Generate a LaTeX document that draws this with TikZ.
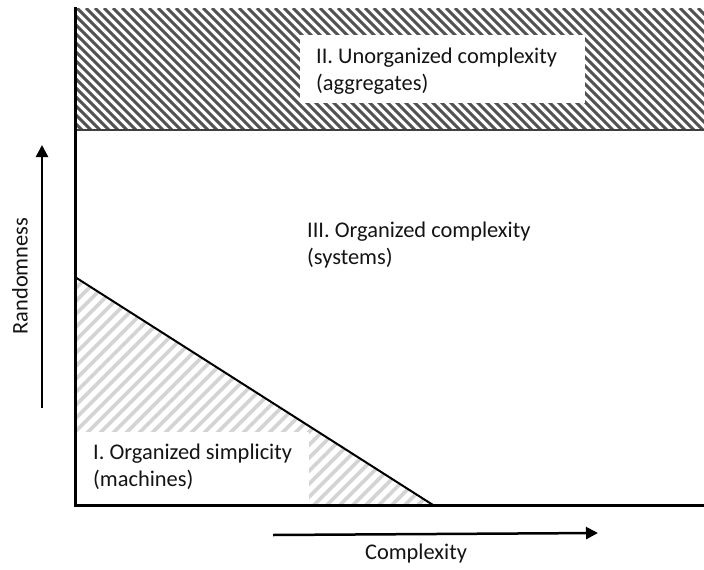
\documentclass[tikz,border=0pt]{standalone}
\usepackage{fontspec}
\setmainfont{Carlito}
\usetikzlibrary{arrows.meta}
\begin{document}
\begin{tikzpicture}[x=1pt,y=-1pt,
  lbl/.style={font=\fontsize{22.4}{27.5}\selectfont, text=black!92, align=left, inner sep=0pt},
  whitebox/.style={fill=white, draw=none, inner sep=0pt, anchor=north west},
  darkhatch/.style={line width=3pt, draw=black!68},
  lighthatch/.style={line width=3.6pt, draw=black!17},
  axisline/.style={line width=3pt, draw=black, line cap=rect},
  dirarrow/.style={line width=2.5pt, -{Triangle[length=12pt,width=12pt]}}]
\useasboundingbox (0,0) rectangle (704,570);
\fill[white] (0,0) rectangle (704,570);

% Region II: dark diagonal hatching in the upper band
\begin{scope}
  \clip (75,8) rectangle (704,130);
  \foreach \k in {-130,-121,...,712} \draw[darkhatch] (\k,8) -- ++(122,122);
\end{scope}
\node[whitebox, minimum width=285pt, minimum height=68pt] (aggbox) at (300,35) {};
\draw[line width=2pt, black!75] (75,130) -- (704,130);

% Region I: light hatching in the lower-left triangle
\begin{scope}
  \clip (75,277) -- (433,505) -- (75,505) -- cycle;
  \foreach \k in {-180,-167,...,445} \draw[lighthatch] (\k,505) -- ++(240,-240);
\end{scope}
\node[whitebox, minimum width=234pt, minimum height=73pt] (machbox) at (75,432) {};
\draw[line width=2pt] (75,277) -- (433,505);

% Frame
\draw[axisline] (75,8) -- (75,505) -- (704,505);

% Region labels
\node[lbl, anchor=west] (agg) at (316,71) {II. Unorganized complexity\\(aggregates)};
\node[lbl, anchor=west] (sys) at (307,245) {III. Organized complexity\\(systems)};
\node[lbl, anchor=west] (mach) at (93,467) {I. Organized simplicity\\(machines)};

% Axis arrows and their labels
\coordinate (rfrom) at (42,408);
\coordinate (rto) at (42,145);
\draw[dirarrow] (rfrom) -- (rto);
\node[lbl, rotate=90] (rand) at (20,276) {Randomness};

\coordinate (cfrom) at (273,535);
\coordinate (cto) at (598,533);
\draw[dirarrow] (cfrom) -- (cto);
\node[lbl] (cplx) at (416,554) {Complexity};
\end{tikzpicture}
\end{document}
